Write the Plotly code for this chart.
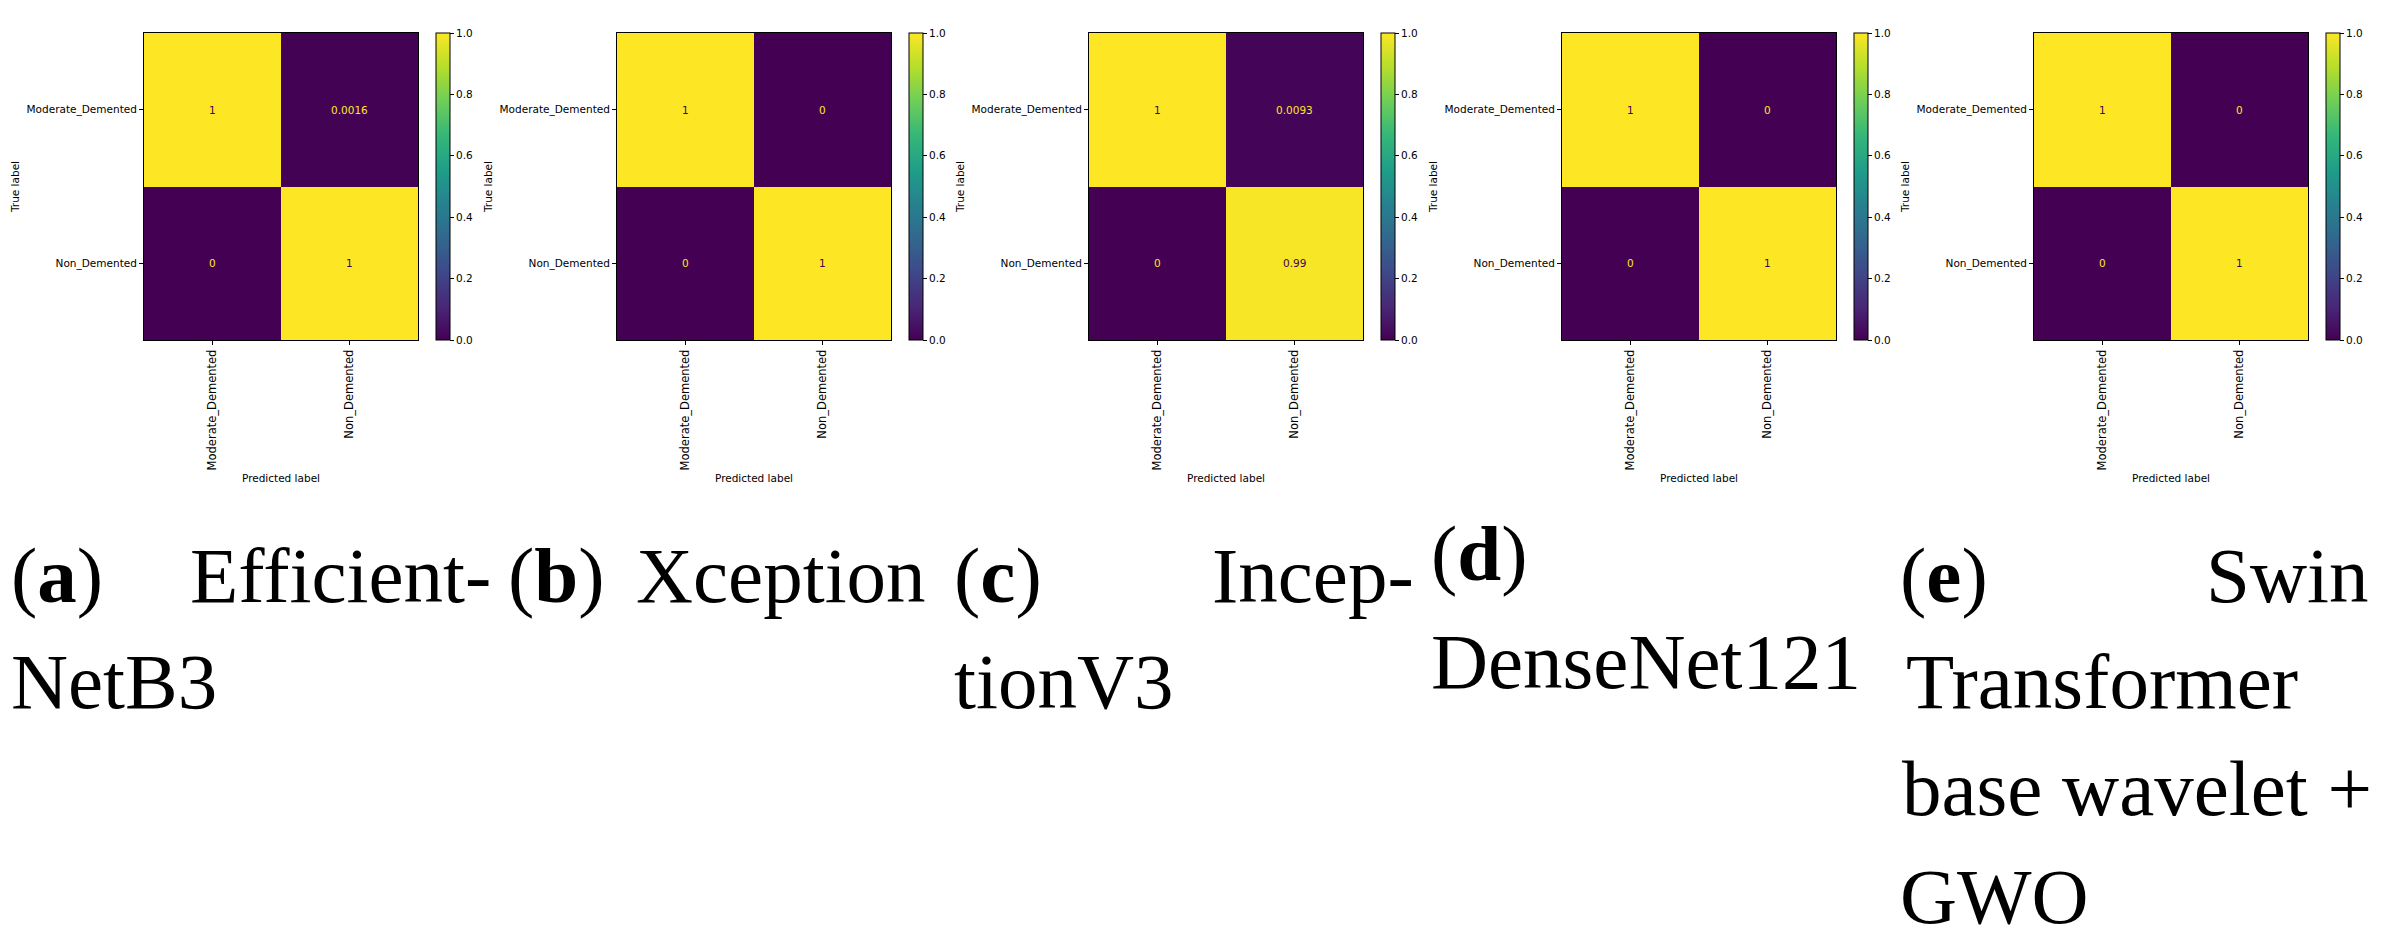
import plotly.graph_objects as go

# ---------------- data ----------------
classes = ["Moderate_Demented", "Non_Demented"]
cm_efficientnetb3 = [[1, 0.0016], [0, 1]]
cm_xception = [[1, 0], [0, 1]]
cm_inceptionv3 = [[1, 0.0093], [0, 0.99]]
cm_densenet121 = [[1, 0], [0, 1]]
cm_swin_gwo = [[1, 0], [0, 1]]
colorbar_ticks = [0.0, 0.2, 0.4, 0.6, 0.8, 1.0]
matrices = [cm_efficientnetb3, cm_xception, cm_inceptionv3, cm_densenet121, cm_swin_gwo]

# ---------------- layout (page pixels) ----------------
W, H = 2404, 950
OFF = 8                      # default body margin of the html page
FW, FH = W - 2 * OFF, H - 2 * OFF
panel_left = [144, 617, 1089, 1562, 2034]
panel_w = 274
top, bottom = 33, 340
cb_gap, cb_thick = 18, 14

TICK_FONT = dict(family="DejaVu Sans", size=10.5, color="black")
XTICK_FONT = dict(family="DejaVu Sans", size=11.5, color="black")
CAP_FONT_SIZE = 79
CAP_FONT = dict(family="Liberation Serif", size=CAP_FONT_SIZE, color="black")


def px_x(x):
    return (x - OFF) / FW


def px_y(y):
    return 1 - (y - OFF) / FH


fig = go.Figure()
annotations = []

for i, cm in enumerate(matrices):
    n = i + 1
    xa = "x" if n == 1 else f"x{n}"
    ya = "y" if n == 1 else f"y{n}"
    left = panel_left[i]
    right = left + panel_w
    fig.add_trace(go.Heatmap(
        z=cm, x=classes, y=classes, xaxis=xa, yaxis=ya,
        colorscale="Viridis", zmin=0, zmax=1, hoverinfo="skip",
        colorbar=dict(
            x=px_x(right + cb_gap), xanchor="left",
            y=px_y(top), yanchor="top",
            len=(bottom - top) / FH, lenmode="fraction",
            thickness=cb_thick, thicknessmode="pixels",
            xpad=0, ypad=0,
            outlinewidth=1, outlinecolor="black",
            tickvals=colorbar_ticks,
            ticktext=[f"{t:.1f}" for t in colorbar_ticks],
            ticks="outside", ticklen=4, tickcolor="black",
            tickfont=TICK_FONT,
        ),
    ))
    axis_common = dict(
        type="category", showline=True, mirror=True, linecolor="black",
        linewidth=1, ticks="outside", ticklen=4, tickcolor="black",
        showgrid=False, zeroline=False, automargin=False,
    )
    fig.layout[f"xaxis{'' if n == 1 else n}"] = dict(
        axis_common, domain=[px_x(left), px_x(right)], anchor=ya,
        tickangle=-90, tickfont=XTICK_FONT,
        title=dict(text="Predicted label", font=TICK_FONT, standoff=5),
    )
    fig.layout[f"yaxis{'' if n == 1 else n}"] = dict(
        axis_common, domain=[px_y(bottom), px_y(top)], anchor=xa,
        autorange="reversed", tickfont=TICK_FONT,
        title=dict(text="True label", font=TICK_FONT, standoff=4),
    )
    for r in range(2):
        for c in range(2):
            v = cm[r][c]
            annotations.append(dict(
                x=classes[c], y=classes[r], xref=xa, yref=ya,
                text=format(v, ".2g"), showarrow=False,
                font=dict(family="DejaVu Sans", size=10.5,
                          color="#440154" if v > 0.5 else "#fde725"),
            ))

# ---------------- captions ----------------
# (text, x pixel, anchor, baseline pixel)
caption_words = [
    ("(<b>a</b>)", 10, "left", 602),
    ("Efficient-", 492, "right", 602),
    ("NetB3", 10, "left", 708),
    ("(<b>b</b>)", 507, "left", 602),
    ("Xception", 635, "left", 602),
    ("(<b>c</b>)", 953, "left", 602),
    ("Incep-", 1415, "right", 602),
    ("tionV3", 953, "left", 708),
    ("(<b>d</b>)", 1430, "left", 580),
    ("DenseNet121", 1430, "left", 688),
    ("(<b>e</b>)", 1899, "left", 602),
    ("Swin", 2369, "right", 602),
    ("Transformer", 1905, "left", 708),
    ("base wavelet +", 1901, "left", 815),
    ("GWO", 1899, "left", 923),
]
for text, x, anchor, base in caption_words:
    annotations.append(dict(
        x=px_x(x), y=px_y(base - 0.34 * CAP_FONT_SIZE), xref="paper", yref="paper",
        xanchor=anchor, yanchor="middle", text=text, showarrow=False,
        font=CAP_FONT, borderpad=0,
    ))

fig.update_layout(
    width=FW, height=FH, margin=dict(l=0, r=0, t=0, b=0),
    paper_bgcolor="white", plot_bgcolor="white",
    showlegend=False, annotations=annotations,
)

fig.write_html("out.html")
